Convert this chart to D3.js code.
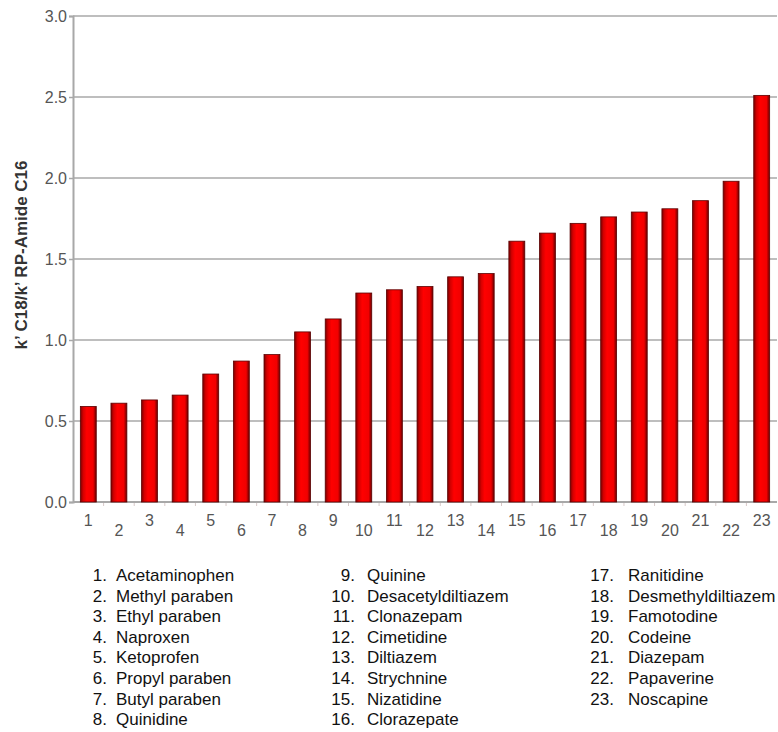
<!DOCTYPE html>
<html><head><meta charset="utf-8">
<script src="https://cdn.jsdelivr.net/npm/d3@7"></script>
<style>body{margin:0;background:#fff;} svg{display:block;font-family:"Liberation Sans",Arial,sans-serif;}</style>
</head><body>
<svg id="c" width="778" height="732"></svg>
<script>
const categories = d3.range(1, 24);
const values = [0.59,0.61,0.63,0.66,0.79,0.87,0.91,1.05,1.13,1.29,1.31,1.33,1.39,1.41,1.61,1.66,1.72,1.76,1.79,1.81,1.86,1.98,2.51];
const names = ["Acetaminophen","Methyl paraben","Ethyl paraben","Naproxen","Ketoprofen","Propyl paraben","Butyl paraben","Quinidine",
  "Quinine","Desacetyldiltiazem","Clonazepam","Cimetidine","Diltiazem","Strychnine","Nizatidine","Clorazepate",
  "Ranitidine","Desmethyldiltiazem","Famotodine","Codeine","Diazepam","Papaverine","Noscapine"];
const yTicks = [0,0.5,1.0,1.5,2.0,2.5,3.0];
const yTitle = "k’ C18/k’ RP-Amide C16";

const svg = d3.select("#c");
const pLeft = 73, pRight = 777, pTop = 16, pBottom = 502;
const x = d3.scaleBand().domain(categories).range([pLeft, pRight]).paddingInner(0.48).paddingOuter(0.24);
const y = d3.scaleLinear().domain([0, 3]).range([pBottom, pTop]);

const defs = svg.append("defs");
const g = defs.append("linearGradient").attr("id","bar").attr("x1","0").attr("x2","1").attr("y1","0").attr("y2","0");
[[0,"#7a0000"],[0.18,"#d40000"],[0.4,"#ff0000"],[0.8,"#f20000"],[1,"#6a0000"]].forEach(s=>g.append("stop").attr("offset",s[0]).attr("stop-color",s[1]));

// gridlines
svg.append("g").selectAll("line").data(yTicks.filter(d=>d>0)).join("line")
  .attr("x1", pLeft).attr("x2", pRight).attr("y1", d=>y(d)).attr("y2", d=>y(d))
  .attr("stroke","#a8a8a8").attr("stroke-width",1.5);

// y axis
const yAxis = svg.append("g").attr("transform",`translate(${pLeft},0)`)
  .call(d3.axisLeft(y).tickValues(yTicks).tickFormat(d3.format(".1f")).tickSize(4).tickPadding(2));
yAxis.select(".domain").attr("stroke","#a8a8a8").attr("stroke-width",2);
yAxis.selectAll(".tick line").attr("stroke","#a8a8a8").attr("stroke-width",1.5);
yAxis.selectAll(".tick text").attr("fill","#555").style("font-size","16px");

// x axis
const xAxis = svg.append("g").attr("transform",`translate(0,${pBottom})`)
  .call(d3.axisBottom(x).tickSize(0).tickPadding(0));
xAxis.select(".domain").remove();
xAxis.selectAll(".tick text").attr("fill","#555").style("font-size","16px")
  .attr("y", (d)=> d%2===1 ? 24 : 34).attr("dy","0");
// small ticks between bands
svg.append("g").selectAll("line").data(categories.slice(1)).join("line")
  .attr("x1", d=>x(d) - x.step()*x.paddingInner()/2).attr("x2", d=>x(d) - x.step()*x.paddingInner()/2)
  .attr("y1", pBottom).attr("y2", pBottom+4).attr("stroke","#d8c8c8").attr("stroke-width",1);
svg.append("line").attr("x1",pLeft).attr("x2",pRight).attr("y1",pBottom).attr("y2",pBottom).attr("stroke","#a8a8a8").attr("stroke-width",2);

// bars
svg.append("g").selectAll("rect").data(values).join("rect")
  .attr("x",(d,i)=>x(categories[i])).attr("width",x.bandwidth())
  .attr("y",d=>y(d)).attr("height",d=>y(0)-y(d))
  .attr("fill","url(#bar)").attr("stroke","#5a0000").attr("stroke-width",0.8);

// y title
svg.append("text").attr("transform",`translate(27,255) rotate(-90)`)
  .attr("text-anchor","middle").attr("font-weight","bold").attr("fill","#333").style("font-size","17px").text(yTitle);

// legend
const cols = [{nx:107, tx:116},{nx:355, tx:367},{nx:614, tx:628}];
const leg = svg.append("g").style("font-size","17px").attr("fill","#111");
names.forEach((n,i)=>{
  const c = Math.floor(i/8), r = i%8;
  const yy = 581 + r*20.6;
  leg.append("text").attr("x",cols[c].nx).attr("y",yy).attr("text-anchor","end").text(categories[i]+".");
  leg.append("text").attr("x",cols[c].tx).attr("y",yy).text(n);
});
</script>
</body></html>
